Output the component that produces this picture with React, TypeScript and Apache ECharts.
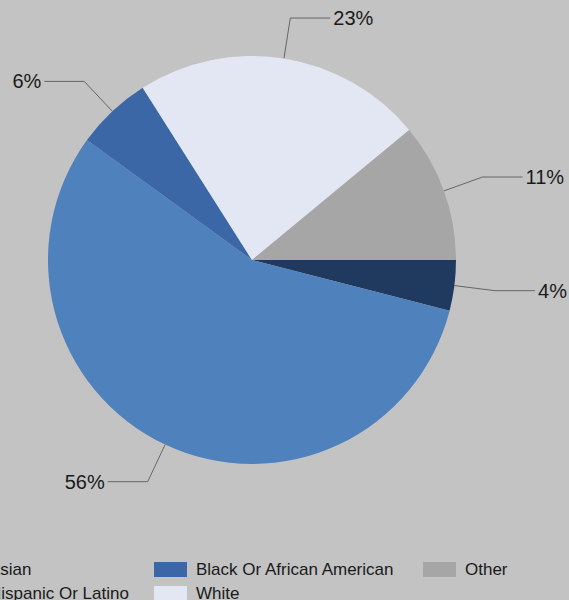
import React, { useEffect, useRef } from "react";
import * as echarts from "echarts";

const categories = ["Asian", "Hispanic Or Latino", "Black Or African American", "White", "Other"];
const values = [4, 56, 6, 23, 11];
const colors = ["#1f3a5e", "#4f81bd", "#3b67a6", "#e3e7f3", "#a6a6a6"];
const legendRows = [
  ["Asian", "Black Or African American", "Other"],
  ["Hispanic Or Latino", "White"],
];

export default function App() {
  const ref = useRef<HTMLDivElement>(null);
  useEffect(() => {
    document.body.style.margin = "0";
    if (!ref.current) return;
    const chart = echarts.init(ref.current, undefined, { renderer: "svg" });
    const colLeft = [-53, 154, 423];
    const rowTop = [561, 585];
    const legends: any[] = [];
    legendRows.forEach((row, r) =>
      row.forEach((name, c) => {
        legends.push({
          data: [name],
          left: colLeft[c],
          top: rowTop[r],
          padding: 0,
          itemWidth: 33,
          itemHeight: 15,
          icon: "rect",
          selectedMode: false,
          textStyle: {
            fontSize: 17,
            color: "#1a1a1a",
            fontFamily: "Liberation Sans, Arial, sans-serif",
            padding: [0, 0, 0, 4],
          },
        });
      })
    );
    chart.setOption({
      animation: false,
      backgroundColor: "#c3c3c3",
      legend: legends,
      series: [
        {
          type: "pie",
          center: [252, 260],
          radius: 204,
          startAngle: 0,
          clockwise: true,
          avoidLabelOverlap: false,
          data: categories.map((name, i) => ({
            name,
            value: values[i],
            itemStyle: { color: colors[i] },
          })),
          itemStyle: { borderWidth: 0 },
          label: {
            show: true,
            formatter: (p: any) => `${p.value}%`,
            fontSize: 20,
            color: "#1a1a1a",
            fontFamily: "Liberation Sans, Arial, sans-serif",
            distanceToLabelLine: 3,
          },
          labelLine: {
            show: true,
            length: 41,
            length2: 40,
            lineStyle: { color: "#666666", width: 1 },
          },
          emphasis: { disabled: true },
        },
      ],
    });
    return () => chart.dispose();
  }, []);
  return <div ref={ref} style={{ width: 569, height: 600 }} />;
}
